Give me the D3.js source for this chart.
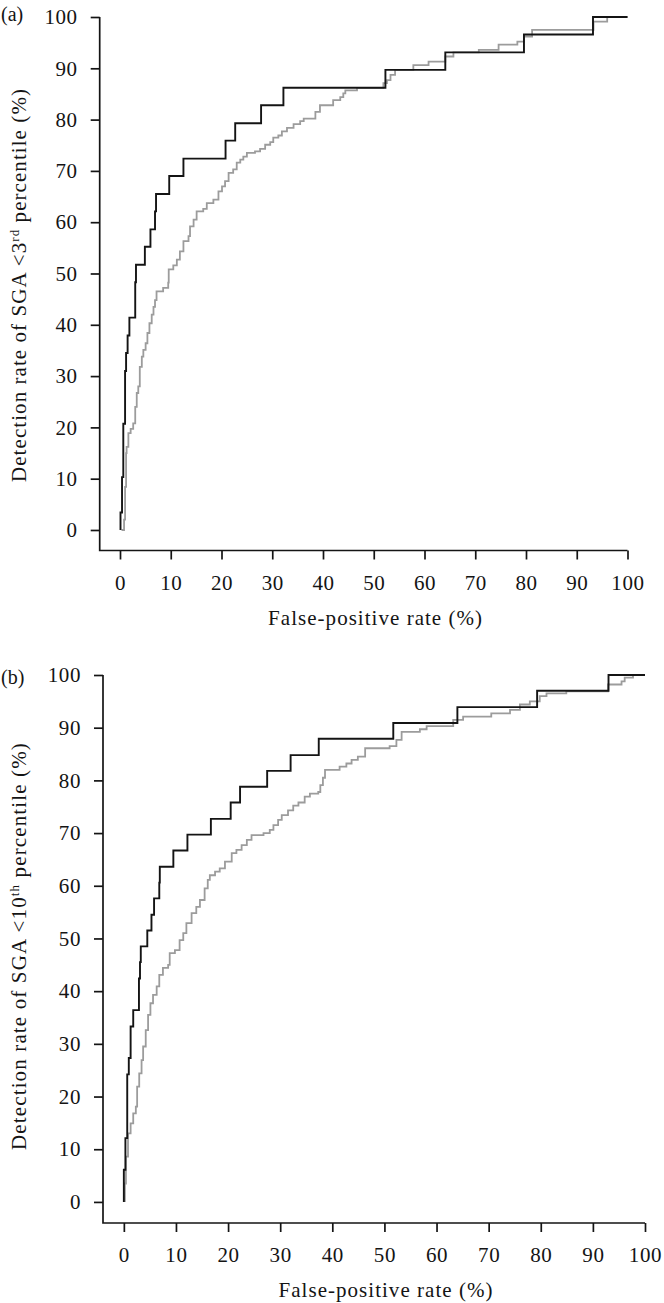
<!DOCTYPE html>
<html>
<head>
<meta charset="utf-8">
<script src="https://cdn.jsdelivr.net/npm/d3@7/dist/d3.min.js"></script>
<style>
body { margin: 0; background: #fff; }
svg text { font-family: "Liberation Serif", "Times New Roman", serif; fill: #141414; }
</style>
</head>
<body>
<svg id="chart" width="664" height="1303"></svg>
<script>
// tick values shared by both axes of both panels
const tickValues = [0, 10, 20, 30, 40, 50, 60, 70, 80, 90, 100];

// panel (a): SGA <3rd percentile
const darkFprA = [0.1, 0.1, 0.4, 0.65, 1.0, 1.2, 1.5, 1.85, 3.0, 3.15, 4.9, 6.0, 6.9, 7.1, 9.7, 12.5, 20.8, 22.7, 27.8, 32.2, 52.3, 64.1, 79.6, 93.2, 100];
const darkTprA = [0, 3.4, 10.3, 20.7, 31.0, 34.5, 37.9, 41.4, 48.3, 51.7, 55.2, 58.6, 62.1, 65.5, 69.0, 72.4, 75.9, 79.3, 82.8, 86.2, 89.7, 93.1, 96.6, 100, 100];
const greyFprA = [0.3, 0.8, 1.0, 1.2, 1.3, 1.65, 2.1, 2.6, 3.0, 3.3, 3.6, 3.9, 4.3, 4.6, 5.05, 5.4, 5.8, 6.25, 6.6, 6.9, 7.2, 8.5, 9.5, 9.6, 10.5, 11.2, 11.8, 12.5, 13.5, 13.8, 14.5, 15.1, 16.4, 17.1, 18.4, 19.4, 20.1, 20.7, 21.4, 22.3, 23.0, 23.7, 24.3, 25.0, 26.6, 27.6, 28.6, 29.6, 30.2, 31.2, 31.9, 32.9, 34.2, 35.5, 36.2, 38.5, 39.4, 42.0, 43.4, 44.0, 44.4, 46.7, 51.9, 52.6, 53.3, 54.2, 57.8, 60.8, 64.1, 65.7, 70.7, 74.6, 78.3, 79.6, 81.2, 93.3, 96.0, 100];
const greyTprA = [0, 2, 8.4, 15, 16.2, 18.9, 19.7, 20.8, 24, 26.7, 28, 31.8, 33.8, 35.1, 36.4, 38.4, 40.3, 42, 43.5, 44.8, 46.5, 47.2, 48.2, 50.8, 51.6, 52.7, 54.3, 56.3, 57.3, 59.2, 60.5, 62.1, 62.6, 63.7, 64.4, 66, 67, 68, 69.6, 70.3, 71.6, 72.2, 72.8, 73.5, 73.8, 74.3, 75.1, 75.6, 76.5, 76.9, 77.7, 78.4, 79.1, 79.7, 80.2, 81.5, 82.8, 83.8, 84.4, 85.1, 85.7, 86.2, 87.1, 87.7, 88.7, 89.7, 90.6, 91.3, 92.3, 93.1, 93.6, 94.6, 95.2, 96.2, 97.5, 99.1, 100, 100];

// panel (b): SGA <10th percentile
const darkFprB = [0, 0, 0.3, 0.65, 0.95, 1.3, 1.8, 2.9, 3.1, 3.25, 4.5, 5.3, 5.8, 6.8, 6.9, 9.5, 12.2, 16.7, 20.5, 22.3, 27.5, 32.0, 37.4, 51.7, 64.0, 79.3, 93.0, 100];
const darkTprB = [0, 6.1, 12.1, 24.2, 27.3, 33.3, 36.4, 42.4, 45.5, 48.5, 51.5, 54.5, 57.6, 60.6, 63.6, 66.7, 69.7, 72.7, 75.8, 78.8, 81.8, 84.8, 87.9, 90.9, 93.9, 97.0, 100, 100];
const greyFprB = [0.2, 0.2, 0.4, 0.8, 1.3, 1.8, 2.3, 2.55, 2.95, 3.4, 3.7, 4.2, 4.65, 5.1, 5.6, 6.3, 6.8, 7.5, 8.5, 8.8, 9.8, 10.7, 11.4, 12.0, 13.0, 13.9, 14.6, 15.5, 16.1, 16.5, 17.5, 18.4, 19.4, 20.7, 21.6, 22.6, 23.6, 24.5, 26.8, 28.0, 28.7, 29.6, 30.3, 31.5, 32.5, 33.5, 34.7, 35.7, 37.3, 37.7, 38.2, 38.6, 41.4, 42.7, 43.7, 44.9, 46.3, 51.0, 52.3, 53.3, 56.8, 58.1, 63.2, 65.1, 70.5, 74.1, 76.0, 77.9, 79.8, 81.1, 84.9, 92.9, 95.5, 96.1, 97.7, 100];
const greyTprB = [0, 3.5, 8.6, 13, 14.9, 16.8, 18.1, 21.9, 24.4, 26.9, 29.5, 32.6, 35.5, 37.7, 39.3, 40.9, 43.1, 44.4, 45, 47.2, 47.8, 49.7, 51, 52.9, 54.8, 56, 57.3, 59.5, 61.1, 62.0, 62.7, 63.3, 64.6, 66.2, 66.8, 67.7, 68.7, 69.6, 70, 70.6, 71.5, 72.5, 73.4, 74.3, 75.2, 75.8, 76.9, 77.5, 77.8, 79.1, 80.5, 82, 82.6, 83.2, 83.9, 84.5, 86.1, 86.5, 87.7, 89.2, 89.7, 90.3, 91.5, 92.1, 92.7, 93.4, 94.4, 95, 96, 96.5, 96.9, 98.2, 98.8, 99.5, 100, 100];

const svg = d3.select("#chart");

// layout of the two stacked panels (pixel ranges of the -4..100 domain)
const panels = [
    { tag: "(a)", tagY: 21, xr: [99.7, 627.5], yr: [550.5, 17], titleMid: 285, titleLen: 394,
      pre: "Detection rate of SGA <3", sup: "rd", post: " percentile (%)",
      dark: [darkFprA, darkTprA], grey: [greyFprA, greyTprA] },
    { tag: "(b)", tagY: 684, xr: [103, 645], yr: [1223, 675], titleMid: 946, titleLen: 408,
      pre: "Detection rate of SGA <10", sup: "th", post: " percentile (%)",
      dark: [darkFprB, darkTprB], grey: [greyFprB, greyTprB] }
];

// stretch a text's letter spacing so it spans the wanted width
function fitWidth(sel, target) {
    const node = sel.node();
    const natural = node.getComputedTextLength();
    const n = node.textContent.length;
    sel.style("letter-spacing", ((target - natural) / n) + "px");
}

function drawPanel(p) {
    const x = d3.scaleLinear().domain([-4, 100]).range(p.xr);
    const y = d3.scaleLinear().domain([-4, 100]).range(p.yr);
    const g = svg.append("g");

    // L-shaped frame: left axis from 100 down to the corner, bottom to 100
    g.append("path")
        .attr("d", `M${x(-4)},${y(100)}V${y(-4)}H${x(100)}`)
        .attr("fill", "none")
        .attr("stroke", "#141414")
        .attr("stroke-width", 1.7);

    const yAxis = g.append("g")
        .attr("transform", `translate(${x(-4)},0)`)
        .call(d3.axisLeft(y).tickValues(tickValues).tickSize(9).tickPadding(13));
    const xAxis = g.append("g")
        .attr("transform", `translate(0,${y(-4)})`)
        .call(d3.axisBottom(x).tickValues(tickValues).tickSize(9).tickPadding(14));

    [xAxis, yAxis].forEach(a => {
        a.select(".domain").remove();
        a.selectAll("line").attr("stroke", "#141414").attr("stroke-width", 1.7);
        a.selectAll("text").style("font-size", "21px").attr("fill", "#141414")
            .style("letter-spacing", "0.6px");
    });
    xAxis.selectAll("text").attr("y", 39).attr("dy", 0);

    // axis titles
    const xt = g.append("text")
        .attr("x", (p.xr[0] + p.xr[1]) / 2 + 12)
        .attr("y", y(-4) + 74)
        .attr("text-anchor", "middle")
        .style("font-size", "21px")
        .text("False-positive rate (%)");
    fitWidth(xt, 215);

    const yt = g.append("text")
        .attr("transform", `translate(26,${p.titleMid}) rotate(-90)`)
        .attr("text-anchor", "middle")
        .style("font-size", "21px");
    yt.append("tspan").text(p.pre);
    yt.append("tspan").attr("dy", -7).style("font-size", "13px").text(p.sup);
    yt.append("tspan").attr("dy", 7).text(p.post);
    fitWidth(yt, p.titleLen);

    g.append("text")
        .attr("x", 1)
        .attr("y", p.tagY)
        .style("font-size", "20px")
        .text(p.tag);

    // ROC step curves
    const line = d3.line()
        .x(d => x(d[0]))
        .y(d => y(d[1]))
        .curve(d3.curveStepAfter);

    g.append("path")
        .datum(d3.zip(p.grey[0], p.grey[1]))
        .attr("d", line)
        .attr("fill", "none")
        .attr("stroke", "#9c9c9c")
        .attr("stroke-width", 1.8);

    g.append("path")
        .datum(d3.zip(p.dark[0], p.dark[1]))
        .attr("d", line)
        .attr("fill", "none")
        .attr("stroke", "#141414")
        .attr("stroke-width", 1.9);
}

panels.forEach(drawPanel);
</script>
</body>
</html>
